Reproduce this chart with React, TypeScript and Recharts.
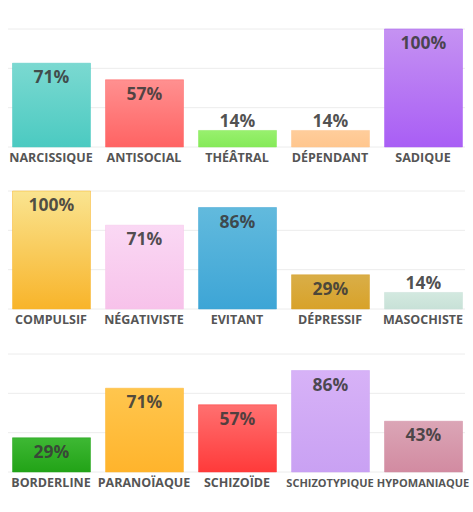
import { BarChart, Bar, XAxis, YAxis, CartesianGrid, Cell, LabelList } from 'recharts';

// row 1
const row1Categories = ['NARCISSIQUE', 'ANTISOCIAL', 'THÉÂTRAL', 'DÉPENDANT', 'SADIQUE'];
const row1Values = [71, 57, 14, 14, 100];

// row 2
const row2Categories = ['COMPULSIF', 'NÉGATIVISTE', 'EVITANT', 'DÉPRESSIF', 'MASOCHISTE'];
const row2Values = [100, 71, 86, 29, 14];

// row 3
const row3Categories = ['BORDERLINE', 'PARANOÏAQUE', 'SCHIZOÏDE', 'SCHIZOTYPIQUE', 'HYPOMANIAQUE'];
const row3Values = [29, 71, 57, 86, 43];

const gridTicks = [0, 33.33, 66.67, 100];

// [top, bottom] gradient stops per bar
const row1Colors = [
  ['#7bd9d1', '#4bcac1'],
  ['#ff9090', '#ff6363'],
  ['#98f06e', '#85ea58'],
  ['#ffcd9b', '#ffc68e'],
  ['#c592f2', '#a95ef5'],
];
const row2Colors = [
  ['#fae490', '#f8b42a'],
  ['#fad8f4', '#f7c2ea'],
  ['#62badd', '#3da5d6'],
  ['#d9ae48', '#d8a229'],
  ['#d3e9e0', '#c8e1d7'],
];
const row3Colors = [
  ['#3eb834', '#22a317'],
  ['#ffc64e', '#ffb42c'],
  ['#ff7070', '#ff3a3a'],
  ['#d7b2f7', '#c9a1f3'],
  ['#dba5b6', '#d28ba1'],
];

const FONT = '"Open Sans", "Noto Sans", sans-serif';

function CategoryTick(props: any) {
  const { x, y, payload } = props;
  const label = String(payload.value);
  // the longest names are set a bit smaller so they fit under their bar
  const size = label.length > 11 ? 11 : 12.5;
  return (
    <text
      x={x}
      y={y}
      dy={2}
      textAnchor="middle"
      dominantBaseline="central"
      fontFamily={FONT}
      fontWeight={700}
      fontSize={size}
      fill="#555"
    >
      {label}
    </text>
  );
}

function ValueLabel(props: any) {
  const { x, y, width, value } = props;
  const above = value < 20;
  return (
    <text
      x={x + width / 2}
      y={above ? y - 10 : y + 13}
      textAnchor="middle"
      dominantBaseline="central"
      fontFamily={FONT}
      fontWeight={700}
      fontSize={17.5}
      fill="#3a3a3a"
      fillOpacity={0.88}
    >
      {`${value}%`}
    </text>
  );
}

function GridLine(p: any) {
  return <line key={p.key} x1={p.x1 + 3.5} x2={p.x2 - 4.5} y1={p.y1} y2={p.y2} stroke="#ececec" strokeWidth={1} />;
}

function Row({ id, categories, values, colors, top }: { id: string; categories: string[]; values: number[]; colors: string[][]; top: number }) {
  const data = categories.map((name, i) => ({ name, value: values[i] }));
  return (
    <div style={{ position: 'absolute', left: 0, top }}>
      <BarChart
        width={473}
        height={172}
        data={data}
        margin={{ top: 29, right: 3.5, left: 4.5, bottom: 10 }}
        barSize={78}
      >
        <defs>
          {colors.map((c, i) => (
            <linearGradient key={i} id={`${id}-g${i}`} x1="0" y1="0" x2="0" y2="1">
              <stop offset="0%" stopColor={c[0]} />
              <stop offset="100%" stopColor={c[1]} />
            </linearGradient>
          ))}
        </defs>
        <CartesianGrid vertical={false} horizontal={GridLine} />
        <YAxis hide domain={[0, 100]} ticks={gridTicks} />
        <XAxis dataKey="name" axisLine={false} tickLine={false} interval={0} height={15} tick={<CategoryTick />} />
        <Bar dataKey="value" isAnimationActive={false}>
          {data.map((_, i) => (
            <Cell key={i} fill={`url(#${id}-g${i})`} stroke={colors[i][1]} strokeOpacity={0.5} />
          ))}
          <LabelList dataKey="value" content={<ValueLabel />} />
        </Bar>
      </BarChart>
    </div>
  );
}

export default function App() {
  return (
    <div style={{ position: 'absolute', left: 0, top: 0, width: 473, height: 512, background: '#fff' }}>
      <Row id="r1" categories={row1Categories} values={row1Values} colors={row1Colors} top={0} />
      <Row id="r2" categories={row2Categories} values={row2Values} colors={row2Colors} top={162} />
      <Row id="r3" categories={row3Categories} values={row3Values} colors={row3Colors} top={325} />
    </div>
  );
}
